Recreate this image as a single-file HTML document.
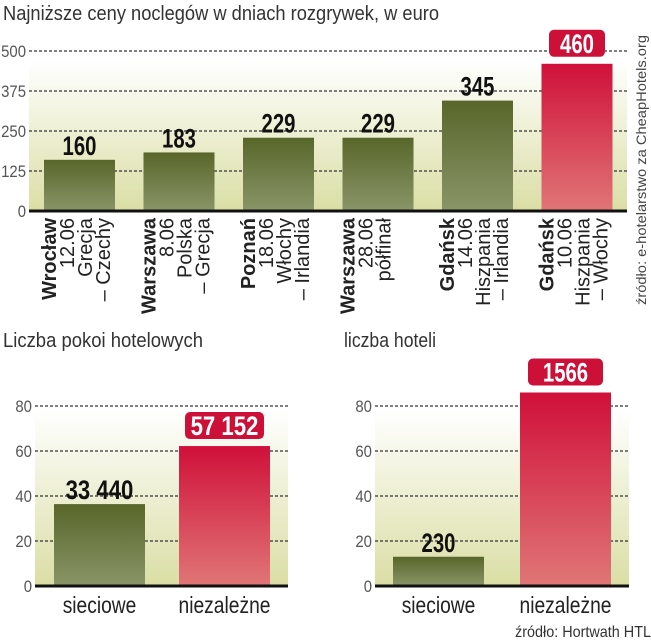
<!DOCTYPE html>
<html><head><meta charset="utf-8"><style>
html,body{margin:0;padding:0;background:#fff;}
svg{display:block;font-family:"Liberation Sans",sans-serif;}
</style></head><body>
<svg id="c" width="651" height="640" viewBox="0 0 651 640">
<defs>
<linearGradient id="bg" x1="0" y1="0" x2="0" y2="1"><stop offset="0" stop-color="#ffffff"/><stop offset="1" stop-color="#dadea4"/></linearGradient>
<linearGradient id="gr" x1="0" y1="0" x2="0" y2="1"><stop offset="0" stop-color="#58662a"/><stop offset="1" stop-color="#8a9568"/></linearGradient>
<linearGradient id="rd" x1="0" y1="0" x2="0" y2="1"><stop offset="0" stop-color="#d0103a"/><stop offset="1" stop-color="#e07676"/></linearGradient>
</defs>
<text x="3" y="20" font-size="20" textLength="436" lengthAdjust="spacingAndGlyphs" fill="#333">Najniższe ceny noclegów w dniach rozgrywek, w euro</text>
<text transform="translate(646,305) rotate(-90)" font-size="14" textLength="270" lengthAdjust="spacingAndGlyphs" fill="#444">źródło: e-hotelarstwo za CheapHotels.org</text>
<text x="3" y="347" font-size="20" textLength="200" lengthAdjust="spacingAndGlyphs" fill="#333">Liczba pokoi hotelowych</text>
<text x="344" y="347" font-size="20" textLength="92" lengthAdjust="spacingAndGlyphs" fill="#333">liczba hoteli</text>
<text x="651" y="637" text-anchor="end" font-size="16" textLength="136" lengthAdjust="spacingAndGlyphs" fill="#333">źródło: Hortwath HTL</text>
<g id="g1"></g><g id="g2"></g><g id="g3"></g>
</svg>
<script>
const priceValues = [160, 183, 229, 229, 345, 460];
const priceTicks = [0, 125, 250, 375, 500];
const priceLabels = [
 ["Wrocław","12.06","Grecja","– Czechy"],
 ["Warszawa","8.06","Polska","– Grecja"],
 ["Poznań","18.06","Włochy","– Irlandia"],
 ["Warszawa","28.06","półfinał"],
 ["Gdańsk","14.06","Hiszpania","– Irlandia"],
 ["Gdańsk","10.06","Hiszpania","– Włochy"]
];
const roomCategories = ["sieciowe", "niezależne"];
const roomValues = [36.4, 62.2];
const roomPrinted = ["33 440", "57 152"];
const hotelCategories = ["sieciowe", "niezależne"];
const hotelValues = [13, 86];
const hotelPrinted = ["230", "1566"];
const smallTicks = [0, 20, 40, 60, 80];

const NS = "http://www.w3.org/2000/svg";
function mk(p, tag, attrs, txt){
  const e = document.createElementNS(NS, tag);
  for (const k in attrs) e.setAttribute(k, attrs[k]);
  if (txt !== undefined) e.textContent = txt;
  p.appendChild(e); return e;
}
function chart(g, o){
  const y = v => o.y0 - v * (o.y0 - o.yTop) / o.tMax;
  const bgEl = mk(g, "rect", {x:o.x0, y:o.bgTop, width:o.x1-o.x0, height:o.y0-o.bgTop, fill:"url(#bg)"});
  
  
  o.ticks.forEach(t => {
    if (t > 0) {
      const l = mk(g, "line", {x1:o.x0, x2:o.x1, y1:y(t), y2:y(t), stroke:"#333", "stroke-width":1.2, "stroke-dasharray":"3,2"});
      
      
    }
    const s = String(t);
    const tl = mk(g, "text", {x:o.x0-3, y:y(t)+6, "text-anchor":"end", "font-size":17, textLength: s.length*8.3, lengthAdjust:"spacingAndGlyphs", fill:"#555"}, s);
    
    
  });
  o.values.forEach((v, i) => {
    const bx = o.barX0 + i * o.step, red = i === o.redIdx;
    const r = mk(g, "rect", {x:bx, y:y(v), width:o.bw, height:o.y0 - y(v), fill: red ? "url(#rd)" : "url(#gr)"});
    
    
    const cx = bx + o.bw / 2;
    const s = o.printed[i];
    const tlen = s.length * 11.3;
    if (red) {
      const w = o.boxW;
      const b = mk(g, "rect", {x:cx - w/2, y:y(v) - 34, width:w, height:27, rx:5, fill:"#cc1038"});
      
      
      const t = mk(g, "text", {x:cx, y:y(v) - 11, "text-anchor":"middle", "font-size":27, "font-weight":"bold", textLength:tlen, lengthAdjust:"spacingAndGlyphs", fill:"#fff"}, s);
      
      
    } else {
      const t = mk(g, "text", {x:cx, y:y(v) - 5, "text-anchor":"middle", "font-size":27, "font-weight":"bold", textLength:tlen, lengthAdjust:"spacingAndGlyphs", fill:"#111"}, s);
      
      
    }
    if (o.cats) {
      const c = mk(g, "text", {x:cx, y:o.y0 + 27, "text-anchor":"middle", "font-size":23, textLength:o.cats[i].length*9.2, lengthAdjust:"spacingAndGlyphs", fill:"#222"}, o.cats[i]);
      
      
    }
    if (o.multi) {
      o.multi[i].forEach((s2, j) => {
        const t = mk(g, "text", {transform:"translate(" + (bx + 12 + j*18) + "," + (o.y0 + 7) + ") rotate(-90)", "text-anchor":"end", "font-size":20, "font-weight": j === 0 ? "bold" : "normal", fill:"#222"}, s2);
        
        
      });
    }
  });
  const ax = mk(g, "line", {x1:o.x0, x2:o.x1, y1:o.y0, y2:o.y0, stroke:"#111", "stroke-width":3});
  
  
}
chart(document.getElementById("g1"), {x0:29, x1:627, y0:211, yTop:51, bgTop:60, tMax:500, ticks:priceTicks, values:priceValues,
  printed:priceValues.map(String), barX0:44, step:99.5, bw:71, redIdx:5, boxW:56, multi:priceLabels});
chart(document.getElementById("g2"), {x0:35, x1:288, y0:586, yTop:406, bgTop:410, tMax:80, ticks:smallTicks, values:roomValues,
  printed:roomPrinted, barX0:54, step:125, bw:91, redIdx:1, boxW:79, cats:roomCategories});
chart(document.getElementById("g3"), {x0:375, x1:629, y0:586, yTop:406, bgTop:410, tMax:80, ticks:smallTicks, values:hotelValues,
  printed:hotelPrinted, barX0:393, step:127, bw:91, redIdx:1, boxW:75, cats:hotelCategories});
</script>
</body></html>
